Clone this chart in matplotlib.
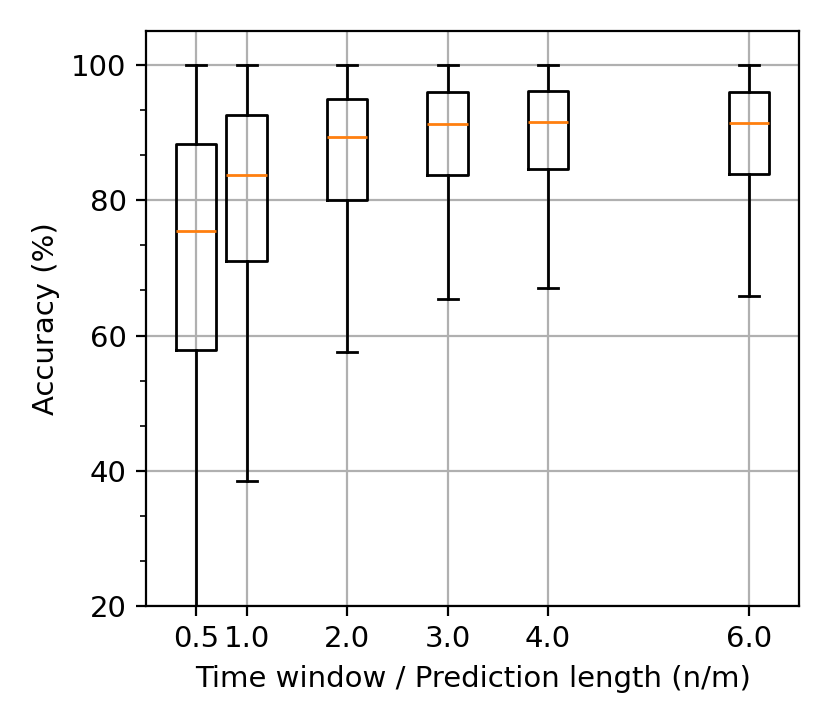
"""
Accuracy box plot across time window / prediction length ratios.
"""

import matplotlib

matplotlib.use("Agg")
import matplotlib.pyplot as plt
from matplotlib.ticker import AutoMinorLocator

# Ratios n/m and box statistics
RATIOS = [0.5, 1.0, 2.0, 3.0, 4.0, 6.0]
TICK_LABELS = ["0.5", "1.0", "2.0", "3.0", "4.0", "6.0"]
WHISKER_LOW = [0.0, 38.5, 57.6, 65.4, 67.05, 65.8]
Q1 = [57.8, 71.05, 80.0, 83.7, 84.6, 83.9]
MEDIAN = [75.4, 83.7, 89.3, 91.27, 91.6, 91.4]
Q3 = [88.3, 92.6, 94.97, 96.05, 96.15, 96.0]
WHISKER_HIGH = [100.0, 100.0, 100.0, 100.0, 100.0, 100.0]


def plot_results():
    plt.rcParams["font.size"] = 10.5

    stats = []
    for i in range(len(RATIOS)):
        stats.append(
            {
                "whislo": WHISKER_LOW[i],
                "q1": Q1[i],
                "med": MEDIAN[i],
                "q3": Q3[i],
                "whishi": WHISKER_HIGH[i],
                "fliers": [],
            }
        )

    fig = plt.figure(figsize=(4.15, 3.635), dpi=200)
    ax = fig.add_axes([0.176, 0.1664, 0.787, 0.7906])

    ax.grid(True, zorder=0)
    ax.bxp(stats, positions=RATIOS, widths=0.4, showfliers=False, manage_ticks=False)

    ax.set_xticks(RATIOS)
    ax.set_xticklabels(TICK_LABELS)
    ax.set_xlim(0, 6.5)
    ax.set_ylim(20, 105)
    ax.set_yticks([20, 40, 60, 80, 100])
    ax.yaxis.set_minor_locator(AutoMinorLocator(3))

    ax.set_xlabel("Time window / Prediction length (n/m)")
    ax.set_ylabel("Accuracy (%)")

    fig.savefig("out.png", dpi=200)


if __name__ == "__main__":
    plot_results()
